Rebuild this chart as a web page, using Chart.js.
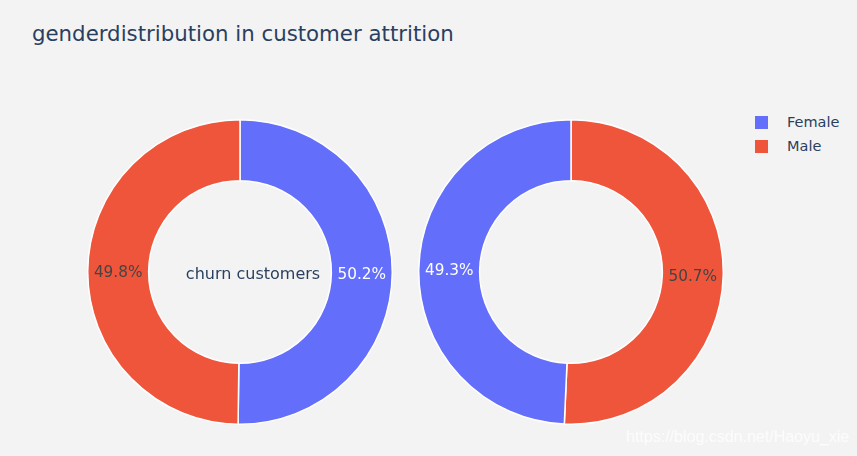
<!DOCTYPE html>
<html>
<head>
<meta charset="utf-8">
<script src="https://cdn.jsdelivr.net/npm/chart.js@4"></script>
<style>
  body { margin: 0; background: #f3f3f3; font-family: "DejaVu Sans", Verdana, sans-serif; color: #2a3f5f; }
  #page { position: relative; width: 857px; height: 456px; overflow: hidden; }
  .abs { position: absolute; white-space: nowrap; }
  #title { left: 32px; top: 21px; font-size: 21.3px; }
  .pie { position: absolute; top: 119px; width: 306px; height: 306px; }
  .legend-item { position: absolute; left: 755px; font-size: 14.5px; line-height: 16px; }
  .legend-item span { position: absolute; left: 0; top: 1px; width: 13px; height: 13px; }
  .legend-item b { font-weight: normal; position: absolute; left: 32px; top: -1px; }
  .pct { position: absolute; font-size: 15.3px; transform: translate(-50%, -50%); white-space: nowrap; }
  #note { left: 253px; top: 273px; font-size: 16px; transform: translate(-50%, -50%); }
  #mark { left: 626px; top: 428px; font-family: "Liberation Sans", Arial, sans-serif; font-size: 16px; color: rgba(255,255,255,0.8); }
</style>
</head>
<body>
<div id="page">
  <div id="title" class="abs">genderdistribution in customer attrition</div>
  <div class="pie" style="left:87px"><canvas id="churnChart" width="306" height="306"></canvas></div>
  <div class="pie" style="left:418px"><canvas id="stayChart" width="306" height="306"></canvas></div>
  <div id="note" class="abs">churn customers</div>
  <div id="legend"></div>
  <div id="mark" class="abs">https://blog.csdn.net/Haoyu_xie</div>
</div>
<script>
const genders = ['Female', 'Male'];
const churnShare = [50.2, 49.8];
const stayShare = [49.3, 50.7];
const genderColors = ['#636efa', '#EF553B'];
const labelColors = ['#ffffff', '#444444'];

// legend
genders.forEach((g, i) => {
  const item = document.createElement('div');
  item.className = 'legend-item';
  item.style.top = (115 + i * 24) + 'px';
  item.innerHTML = `<span style="background:${genderColors[i]}"></span><b>${g}</b>`;
  document.getElementById('legend').appendChild(item);
});

// percentage labels as html placed on the arc middles
const pctLabels = {
  id: 'pctLabels',
  afterRender(chart) {
    const box = chart.canvas.parentNode;
    box.querySelectorAll('.pct').forEach(el => el.remove());
    const meta = chart.getDatasetMeta(0);
    const order = chart.$order;
    meta.data.forEach((arc, i) => {
      const { x, y, startAngle, endAngle, innerRadius, outerRadius } =
        arc.getProps(['x', 'y', 'startAngle', 'endAngle', 'innerRadius', 'outerRadius'], true);
      const mid = (startAngle + endAngle) / 2;
      const r = (innerRadius + outerRadius) / 2;
      const el = document.createElement('div');
      el.className = 'pct';
      el.style.left = (x + Math.cos(mid) * r) + 'px';
      el.style.top = (y + Math.sin(mid) * r + 1) + 'px';
      el.style.color = labelColors[order[i]];
      el.textContent = chart.data.datasets[0].data[i].toFixed(1) + '%';
      box.appendChild(el);
    });
  }
};

function renderPie(canvasId, values) {
  // biggest slice first, like the original
  const order = values.map((v, i) => i).sort((a, b) => values[b] - values[a]);
  const chart = new Chart(document.getElementById(canvasId), {
    type: 'doughnut',
    data: {
      labels: order.map(i => genders[i]),
      datasets: [{
        data: order.map(i => values[i]),
        backgroundColor: order.map(i => genderColors[i]),
        borderColor: '#ffffff',
        borderWidth: 1.5,
        hoverOffset: 0,
      }],
    },
    options: {
      responsive: false,
      animation: false,
      cutout: '60%',
      layout: { padding: 0 },
      plugins: { legend: { display: false }, tooltip: { enabled: false } },
    },
    plugins: [{ id: 'order', beforeInit(c) { c.$order = order; } }, pctLabels],
  });
  return chart;
}

renderPie('churnChart', churnShare);
renderPie('stayChart', stayShare);
</script>
</body>
</html>
